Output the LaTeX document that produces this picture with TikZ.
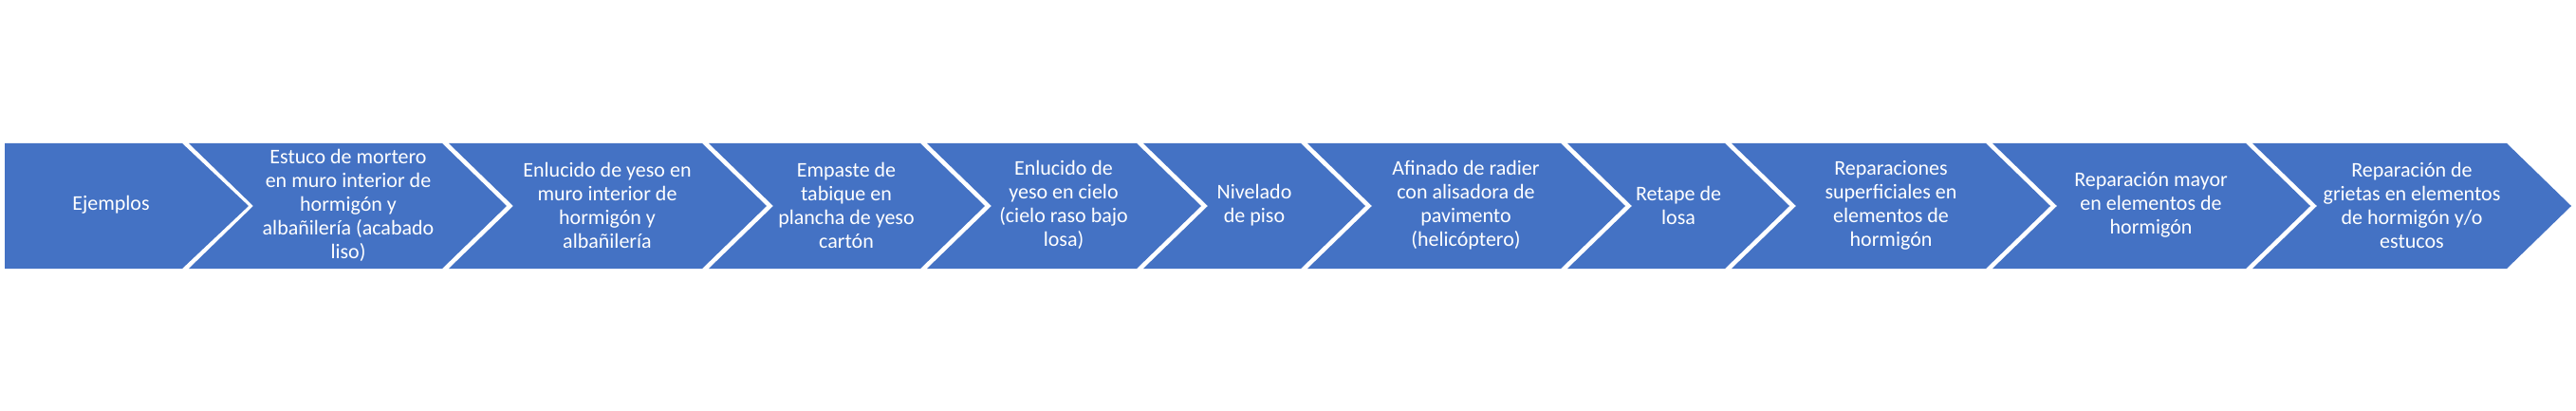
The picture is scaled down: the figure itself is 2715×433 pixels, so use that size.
\documentclass[tikz,border=0pt]{standalone}
\usepackage{fontspec}
\setmainfont{Carlito}
\usepackage{xcolor}
\usepackage{tikz}
\definecolor{chevblue}{HTML}{4472C4}

\begin{document}
\begin{tikzpicture}[x=1pt,y=-1pt,
            chevron/.style={fill=chevblue},
            chevtext/.style={text=white,align=center,inner sep=0pt,
                font=\fontsize{22}{25}\selectfont}]
        \useasboundingbox (0,0) rectangle (2715,433);

        % first block, flat left side
        \fill[chevron] (5,151) -- (192,151) -- (262,217) -- (192,283) -- (5,283) -- cycle;
        % the other blocks, notched
        \foreach \l/\r in {199/466,473/740,747/970,977/1198,1205/1371,
                1378/1645,1652/1818,1825/2093,2100/2367,2374/2642}
            \fill[chevron] (\l,151) -- (\r,151) -- (\r+68,217) -- (\r,283)
                -- (\l,283) -- (\l+68,217) -- cycle;

        \node[chevtext] (ejemplos) at (117,216) {Ejemplos};
        \node[chevtext] (estuco) at (367,216) {Estuco de mortero\\en muro interior de\\hormigón y\\albañilería (acabado\\liso)};
        \node[chevtext] (enlucido) at (640,216) {Enlucido de yeso en\\muro interior de\\hormigón y\\albañilería};
        \node[chevtext] (empaste) at (892,216) {Empaste de\\tabique en\\plancha de yeso\\cartón};
        \node[chevtext] (cielo) at (1121,216) {Enlucido de\\yeso en cielo\\(cielo raso bajo\\losa)};
        \node[chevtext] (nivelado) at (1322,216) {Nivelado\\de piso};
        \node[chevtext] (afinado) at (1545,216) {Afinado de radier\\con alisadora de\\pavimento\\(helicóptero)};
        \node[chevtext] (retape) at (1769,216) {Retape de\\losa};
        \node[chevtext] (superf) at (1993,216) {Reparaciones\\superficiales en\\elementos de\\hormigón};
        \node[chevtext] (mayor) at (2267,216) {Reparación mayor\\en elementos de\\hormigón};
        \node[chevtext] (grietas) at (2542,216) {Reparación de\\grietas en elementos\\de hormigón y/o\\estucos};
\end{tikzpicture}
\end{document}
